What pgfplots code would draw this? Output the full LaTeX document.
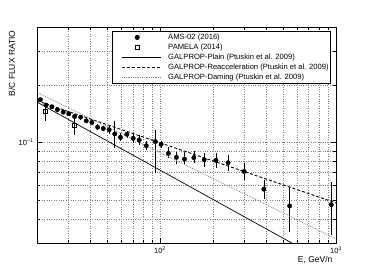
\documentclass[border=0pt]{standalone}
\usepackage{fontspec}
\setmainfont{Liberation Sans}
\usepackage{pgfplots}
\usepackage{pgfplotstable}
\pgfplotsset{compat=1.18}
\pgfplotsset{markleg/.style={legend image code/.code={\path[draw=none] (0pt,0pt) -- (54pt,0pt); \draw[##1] plot coordinates {(24pt,0pt)};}}}
\pgfplotstableread{
E R ep em
20.9 0.1673 0.004 0.004
22.5 0.1569 0.004 0.004
24.3 0.1537 0.004 0.004
26.1 0.1483 0.004 0.004
28.2 0.1441 0.004 0.004
30.3 0.1413 0.004 0.004
32.7 0.1368 0.004 0.004
35.4 0.1357 0.004 0.004
38.1 0.1298 0.004 0.004
41.0 0.1272 0.004 0.004
44.2 0.1203 0.004 0.004
47.6 0.1184 0.004 0.004
51.4 0.1165 0.005 0.005
55.3 0.1110 0.018 0.0176
59.6 0.1066 0.005 0.005
64.8 0.1105 0.005 0.005
70.4 0.1053 0.006 0.006
76.2 0.1033 0.006 0.006
83.5 0.0964 0.005 0.005
94.0 0.1012 0.015 0.032
101.4 0.0980 0.004 0.004
111.6 0.0879 0.0074 0.0051
124 0.0838 0.006 0.006
137.7 0.0821 0.0076 0.0058
155.7 0.0835 0.007 0.0055
178.3 0.0815 0.0064 0.0066
207.8 0.0808 0.0078 0.0074
243.6 0.0786 0.0076 0.0075
300.7 0.0708 0.0072 0.007
389 0.0572 0.0066 0.0065
545 0.0468 0.012 0.0126
940 0.0475 0.015 0.0146
}\amsdata
\pgfplotstableread{
E R ep em
22.2 0.1453 0.009 0.0165
32.7 0.1227 0.014 0.013
}\pameladata
\begin{document}
\begin{tikzpicture}
\path[use as bounding box] (0,0) rectangle (374pt,270pt);
\begin{axis}[at={(37pt,27pt)}, anchor=south west,
 scale only axis, width=299pt, height=216pt,
 xmode=log, ymode=log, xmin=20, xmax=1000, ymin=0.03, ymax=0.4,
 xtick={100,1000}, xticklabels={10\textsuperscript{2},10\textsuperscript{3}},
 minor xtick={20,30,40,50,60,70,80,90,200,300,400,500,600,700,800,900},
 ytick={0.1}, yticklabels={10\textsuperscript{−1}},
 minor ytick={0.03,0.04,0.05,0.06,0.07,0.08,0.09,0.2,0.3},
 grid=both, grid style={dotted, gray, line width=0.5pt},
 tick align=inside, tick pos=both, major tick length=5pt, minor tick length=3pt,
 axis line style={line width=0.9pt},
 tick style={line width=0.5pt, black},
 ticklabel style={font=\fontsize{7.5}{8}\selectfont},
 xlabel={E, GeV/n}, ylabel={B/C FLUX RATIO},
 label style={font=\fontsize{8.5}{9}\selectfont},
 xlabel style={at={(axis description cs:1,-0.08)}, anchor=east},
 ylabel style={at={(axis description cs:-0.084,1)}, anchor=east},
 legend style={at={(rel axis cs:0.983,0.981)}, anchor=north east, draw=black, line width=0.6pt, fill=white,
   font=\fontsize{7.6}{8}\selectfont, inner xsep=1pt, inner ysep=1pt, row sep=0pt,
   nodes={inner sep=1pt, text height=6pt, text depth=2pt}},
 legend cell align=left,
 legend image code/.code={\path[draw=none] (0pt,0pt) -- (54pt,0pt); \draw[#1] (9pt,0pt) -- (48pt,0pt);},
 error bars/error bar style={line width=0.6pt, black},
 error bars/error mark=none,
]
\addplot[only marks, mark=*, mark size=2.2pt, black, markleg,
  error bars/.cd, y dir=both, y explicit]
  table[x=E, y=R, y error plus=ep, y error minus=em] {\amsdata};
\addlegendentry{AMS-02 (2016)}
\addplot[only marks, mark=square, mark size=1.9pt, black, mark options={line width=0.5pt, fill=white}, markleg,
  error bars/.cd, y dir=both, y explicit]
  table[x=E, y=R, y error plus=ep, y error minus=em] {\pameladata};
\addlegendentry{PAMELA (2014)}
\addplot[black, line width=0.7pt] coordinates {(20,0.1626) (1000,0.02237)};
\addlegendentry{GALPROP-Plain (Ptuskin et al. 2009)}
\addplot[black, line width=0.9pt, dash pattern=on 3pt off 2pt] coordinates {(20,0.1652) (1000,0.04852)};
\addlegendentry{GALPROP-Reacceleration (Ptuskin et al. 2009)}
\addplot[gray, line width=0.8pt, densely dotted] coordinates {(20,0.1827) (1000,0.03155)};
\addlegendentry{GALPROP-Daming (Ptuskin et al. 2009)}
\end{axis}
\end{tikzpicture}
\end{document}
